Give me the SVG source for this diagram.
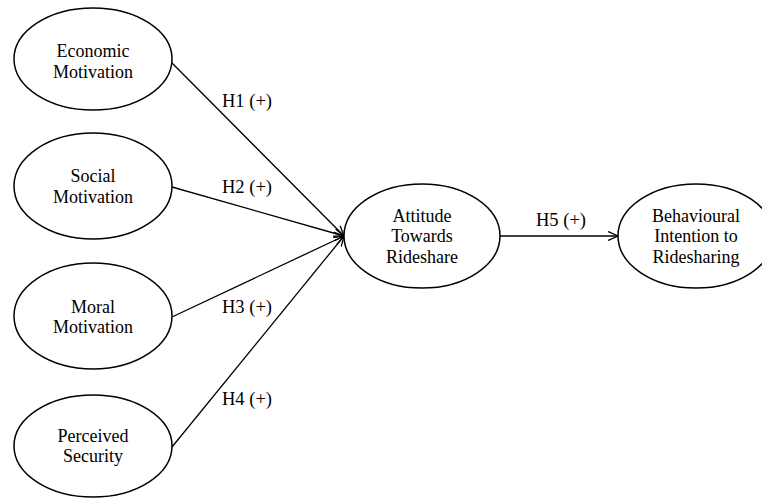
<svg xmlns="http://www.w3.org/2000/svg" width="762" height="500" viewBox="0 0 762 500">
  <defs>
    <style>
      .node ellipse { fill: #ffffff; stroke: #000000; stroke-width: 1.5; }
      .node text { font-family: "Liberation Serif", "Times New Roman", serif; font-size: 18px; fill: #000000; text-anchor: middle; }
      .edges line { stroke: #000000; stroke-width: 1.3; fill: none; }
      .label { font-family: "Liberation Serif", "Times New Roman", serif; font-size: 18.5px; fill: #000000; }
    </style>
    <marker id="arrow" viewBox="0 0 10 10" refX="10" refY="5" markerWidth="10" markerHeight="10" markerUnits="userSpaceOnUse" orient="auto">
      <path d="M0,0.5 L10,5 L0,9.5" fill="none" stroke="#000000" stroke-width="1.3"/>
    </marker>
  </defs>

  <rect width="762" height="500" fill="#ffffff"/>

  <!-- connectors -->
  <g id="connectors" class="edges">
    <line x1="172" y1="63" x2="344" y2="236" marker-end="url(#arrow)"/>
    <line x1="172" y1="187" x2="344" y2="236" marker-end="url(#arrow)"/>
    <line x1="172" y1="317" x2="344" y2="236" marker-end="url(#arrow)"/>
    <line x1="172" y1="447" x2="344" y2="236" marker-end="url(#arrow)"/>
    <line x1="500" y1="236" x2="618" y2="236" marker-end="url(#arrow)"/>
  </g>

  <!-- hypothesis labels -->
  <g id="labels">
    <text class="label" x="222" y="107">H1 (+)</text>
    <text class="label" x="222" y="193">H2 (+)</text>
    <text class="label" x="222" y="313">H3 (+)</text>
    <text class="label" x="222" y="405">H4 (+)</text>
    <text class="label" x="536" y="226">H5 (+)</text>
  </g>

  <!-- nodes -->
  <g id="economic" class="node">
    <ellipse cx="93" cy="59" rx="79" ry="51"/>
    <text x="93" y="57">Economic</text>
    <text x="93" y="78">Motivation</text>
  </g>
  <g id="social" class="node">
    <ellipse cx="93" cy="186" rx="79" ry="53"/>
    <text x="93" y="182">Social</text>
    <text x="93" y="203">Motivation</text>
  </g>
  <g id="moral" class="node">
    <ellipse cx="93" cy="316" rx="79" ry="53"/>
    <text x="93" y="313">Moral</text>
    <text x="93" y="333">Motivation</text>
  </g>
  <g id="security" class="node">
    <ellipse cx="93" cy="446" rx="79" ry="51"/>
    <text x="93" y="442">Perceived</text>
    <text x="93" y="462">Security</text>
  </g>
  <g id="attitude" class="node">
    <ellipse cx="422" cy="236" rx="78" ry="52"/>
    <text x="422" y="222">Attitude</text>
    <text x="422" y="242">Towards</text>
    <text x="422" y="263">Rideshare</text>
  </g>
  <g id="intention" class="node">
    <ellipse cx="696" cy="236" rx="78" ry="52"/>
    <text x="696" y="222">Behavioural</text>
    <text x="696" y="242">Intention to</text>
    <text x="696" y="263">Ridesharing</text>
  </g>
</svg>
